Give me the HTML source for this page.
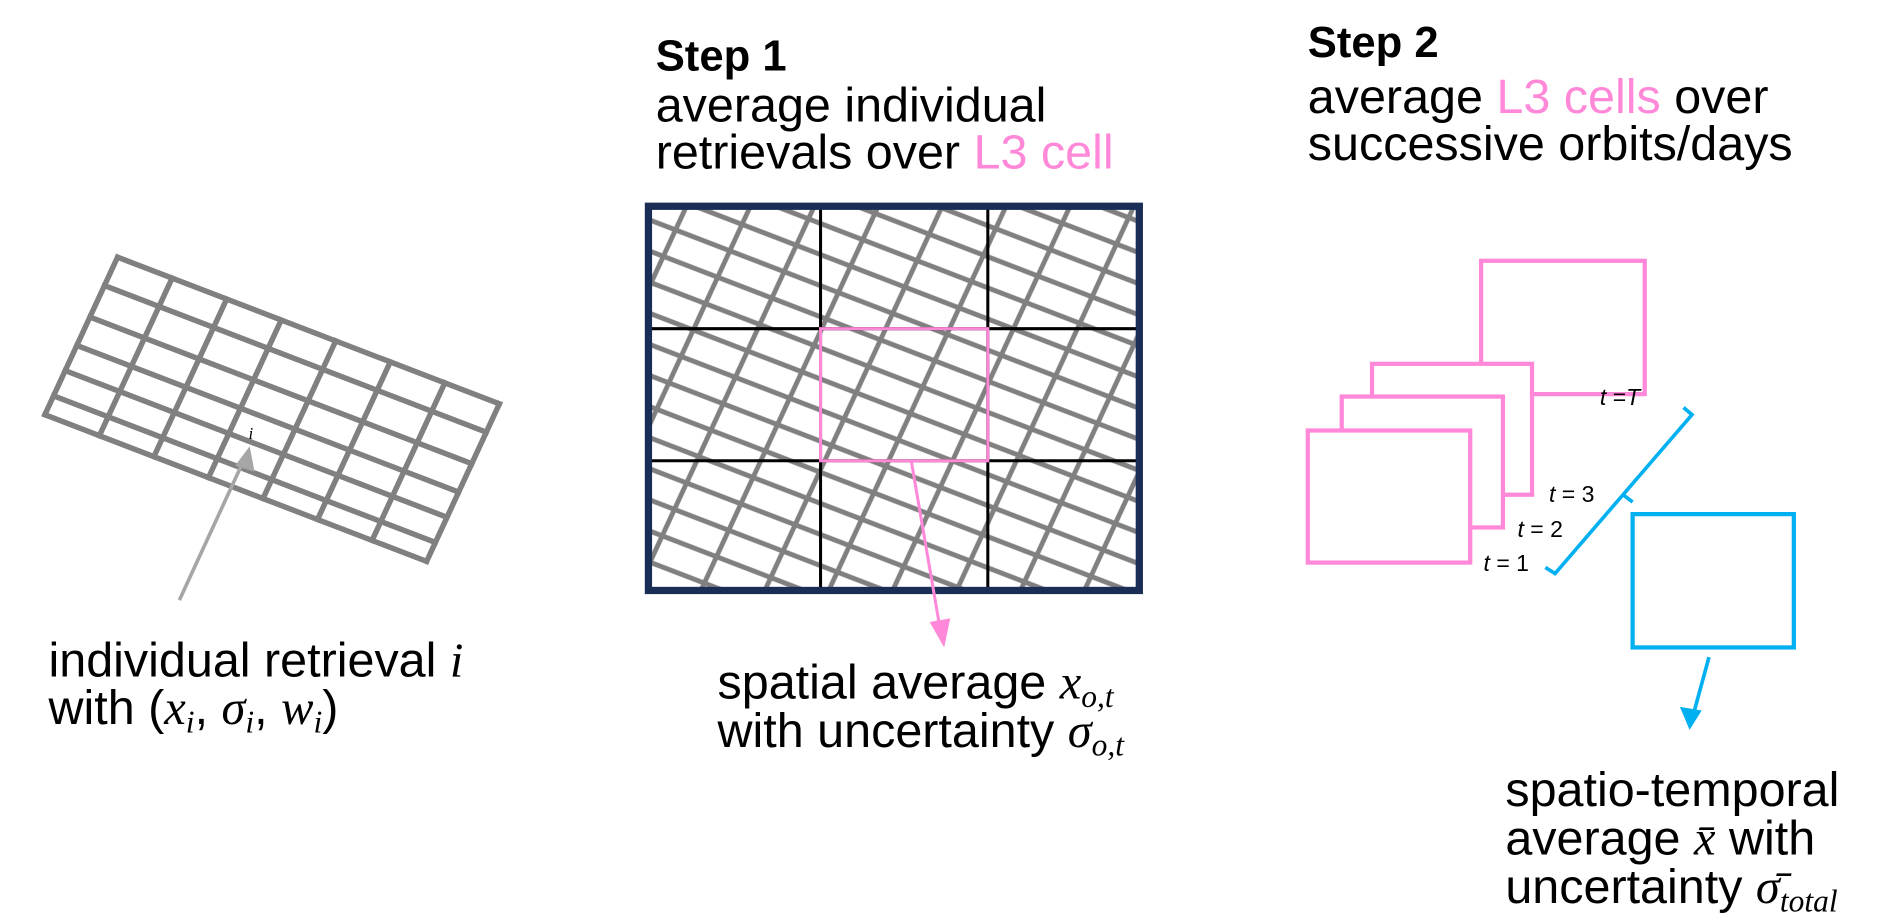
<!DOCTYPE html>
<html><head><meta charset="utf-8"><style>
html,body{margin:0;padding:0;background:#fff;}
svg{display:block;}
text{font-family:"Liberation Sans",sans-serif;fill:#000;}
.m{font-family:"Liberation Serif",serif;font-style:italic;}
</style></head><body>
<svg width="1892" height="924" viewBox="0 0 1561 762" xmlns="http://www.w3.org/2000/svg">
<defs>
<pattern id="pg" patternUnits="userSpaceOnUse" width="48" height="24" patternTransform="matrix(0.933,0.359,-0.419,0.908,540,170)">
<path d="M0 12 H48 M24 0 V24" stroke="#808080" stroke-width="4" fill="none"/>
</pattern>
<clipPath id="cf"><rect x="535" y="170" width="405" height="317"/></clipPath>
</defs>

<!-- Left grid -->
<g stroke="#808080" stroke-width="4.5" fill="none" stroke-linecap="square">
<path d="M97 212 L412 333 M86.2 235.4 L401.2 356.4 M74.2 261.4 L389.2 382.4 M63.4 284.8 L378.4 405.8 M53.8 305.6 L368.8 426.6 M44.2 326.4 L359.2 447.4 M37 342 L352 463"/>
<path d="M97 212 L37 342 M142 229.3 L82 359.3 M187 246.6 L127 376.6 M232 263.9 L172 393.9 M277 281.1 L217 411.1 M322 298.4 L262 428.4 M367 315.7 L307 445.7 M412 333 L352 463"/>
</g>
<text class="m" x="205" y="362" font-size="14">i</text>
<line x1="148" y1="495" x2="200" y2="382" stroke="#a6a6a6" stroke-width="3"/>
<polygon points="206,368 194,384 210,389" fill="#a6a6a6"/>
<text x="40" y="558" font-size="40">individual retrieval <tspan class="m">i</tspan></text>
<text x="40" y="597" font-size="40">with (<tspan class="m">x</tspan><tspan class="m" font-size="26" dy="7">i</tspan><tspan dy="-7">, </tspan><tspan class="m">σ</tspan><tspan class="m" font-size="26" dy="7">i</tspan><tspan dy="-7">, </tspan><tspan class="m">w</tspan><tspan class="m" font-size="26" dy="7">i</tspan><tspan dy="-7">)</tspan></text>

<!-- Step 1 -->
<text x="541" y="58" font-size="36" font-weight="bold">Step 1</text>
<text x="541" y="100" font-size="40">average individual</text>
<text x="541" y="139" font-size="40">retrievals over <tspan style="fill:#ff88d8">L3 cell</tspan></text>
<rect x="535" y="170" width="405" height="317" fill="url(#pg)" clip-path="url(#cf)"/>
<g stroke="#000" stroke-width="2.5">
<line x1="535" y1="271" x2="940" y2="271"/>
<line x1="535" y1="380" x2="940" y2="380"/>
<line x1="677" y1="170" x2="677" y2="487"/>
<line x1="815" y1="170" x2="815" y2="487"/>
</g>
<rect x="677" y="271" width="138" height="109" fill="none" stroke="#ff88d8" stroke-width="2.5"/>
<rect x="535" y="170" width="405" height="317" fill="none" stroke="#1a2d55" stroke-width="6"/>
<line x1="752" y1="381" x2="775" y2="515" stroke="#ff88d8" stroke-width="2.5"/>
<polygon points="779,534 767,513 784,510" fill="#ff88d8"/>
<text x="592" y="576" font-size="40">spatial average <tspan class="m">x</tspan><tspan class="m" font-size="26" dy="7">o,t</tspan></text>
<text x="592" y="616" font-size="40">with uncertainty <tspan class="m">σ</tspan><tspan class="m" font-size="26" dy="7">o,t</tspan></text>

<!-- Step 2 -->
<text x="1079" y="47" font-size="36" font-weight="bold">Step 2</text>
<text x="1079" y="93" font-size="40">average <tspan style="fill:#ff88d8">L3 cells</tspan> over</text>
<text x="1079" y="132" font-size="40">successive orbits/days</text>
<g stroke="#ff88d8" stroke-width="3.5" fill="#fff">
<rect x="1222" y="215" width="135" height="110"/>
<rect x="1132" y="300" width="132" height="108"/>
<rect x="1107" y="327" width="133" height="108"/>
<rect x="1079" y="355" width="134" height="109"/>
</g>
<g font-size="19">
<text x="1224" y="471"><tspan font-style="italic">t</tspan> = 1</text>
<text x="1252" y="443"><tspan font-style="italic">t</tspan> = 2</text>
<text x="1278" y="414"><tspan font-style="italic">t</tspan> = 3</text>
<text x="1320" y="334"><tspan font-style="italic">t</tspan> =<tspan font-style="italic">T</tspan></text>
</g>
<g stroke="#00b0f0" stroke-width="3" fill="none">
<polyline points="1275,468 1283,473 1396,342 1389,336"/>
<line x1="1339" y1="408" x2="1347" y2="414"/>
<rect x="1347" y="424" width="133" height="110" stroke-width="3.5"/>
<line x1="1410" y1="542" x2="1398" y2="586"/>
</g>
<polygon points="1394,602 1386,583 1404,586" fill="#00b0f0"/>
<text x="1242" y="665" font-size="40">spatio-temporal</text>
<text x="1242" y="705" font-size="40">average <tspan class="m">x̄</tspan> with</text>
<text x="1242" y="745" font-size="40">uncertainty <tspan class="m">σ̄</tspan><tspan class="m" font-size="26" dy="7">total</tspan></text>
</svg>
</body></html>
